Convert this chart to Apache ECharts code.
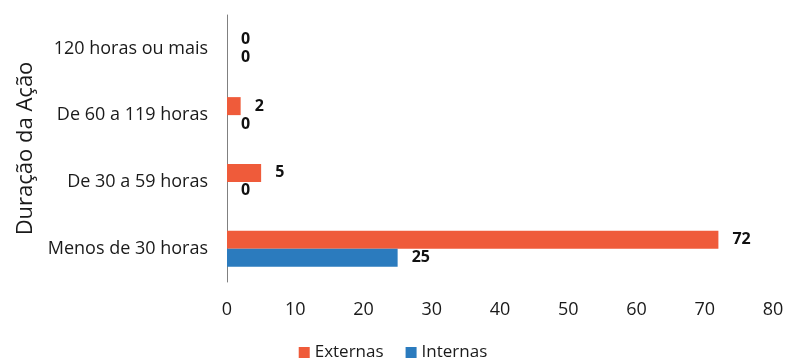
<!DOCTYPE html>
<html>
<head>
<meta charset="utf-8">
<script src="https://cdn.jsdelivr.net/npm/echarts@6/dist/echarts.min.js"></script>
<style>
  html, body { margin: 0; padding: 0; background: #fff; }
  #chart { width: 786px; height: 358px; }
</style>
</head>
<body>
<div id="chart"></div>
<script>
// Training actions by duration, split into external and internal
const categories = ['Menos de 30 horas', 'De 30 a 59 horas', 'De 60 a 119 horas', '120 horas ou mais'];
const externas = [72, 5, 2, 0];
const internas = [25, 0, 0, 0];
const xTicks = { min: 0, max: 80, interval: 10 };

const FONT = '"Open Sans", "Liberation Sans", sans-serif';
const chart = echarts.init(document.getElementById('chart'), null, { renderer: 'canvas' });

const valueLabel = {
  show: true,
  position: 'right',
  distance: 14,
  fontFamily: FONT,
  fontWeight: 'bold',
  fontSize: 16,
  color: '#111'
};

chart.setOption({
  animation: false,
  backgroundColor: '#fff',
  textStyle: { fontFamily: FONT },
  grid: { left: 227, right: 13, top: 15, bottom: 76, containLabel: false, outerBoundsMode: 'none' },
  legend: {
    data: ['Externas', 'Internas'],
    top: 339,
    left: 'center',
    icon: 'rect',
    itemWidth: 11,
    itemHeight: 11,
    itemGap: 22,
    textStyle: { fontFamily: FONT, fontSize: 17, color: '#1a1a1a' }
  },
  xAxis: {
    type: 'value',
    min: xTicks.min,
    max: xTicks.max,
    interval: xTicks.interval,
    axisLine: { show: false },
    axisTick: { show: false },
    splitLine: { show: false },
    axisLabel: { fontFamily: FONT, fontSize: 18, color: '#1a1a1a', margin: 19 }
  },
  yAxis: {
    type: 'category',
    data: categories,
    axisLine: { show: true, lineStyle: { color: '#808080', width: 1 } },
    axisTick: { show: false },
    axisLabel: { fontFamily: FONT, fontSize: 18, color: '#1a1a1a', margin: 19 },
    name: 'Duração da Ação',
    nameLocation: 'middle',
    nameRotate: 90,
    nameGap: 190,
    nameTextStyle: { fontFamily: FONT, fontSize: 22, color: '#1a1a1a' }
  },
  series: [
    {
      name: 'Externas',
      type: 'bar',
      data: externas,
      barWidth: 18,
      barGap: '0%',
      itemStyle: { color: '#ef5b3a' },
      label: valueLabel
    },
    {
      name: 'Internas',
      type: 'bar',
      data: internas,
      barWidth: 18,
      barGap: '0%',
      itemStyle: { color: '#2b7bbe' },
      label: valueLabel
    }
  ]
});
</script>
</body>
</html>
